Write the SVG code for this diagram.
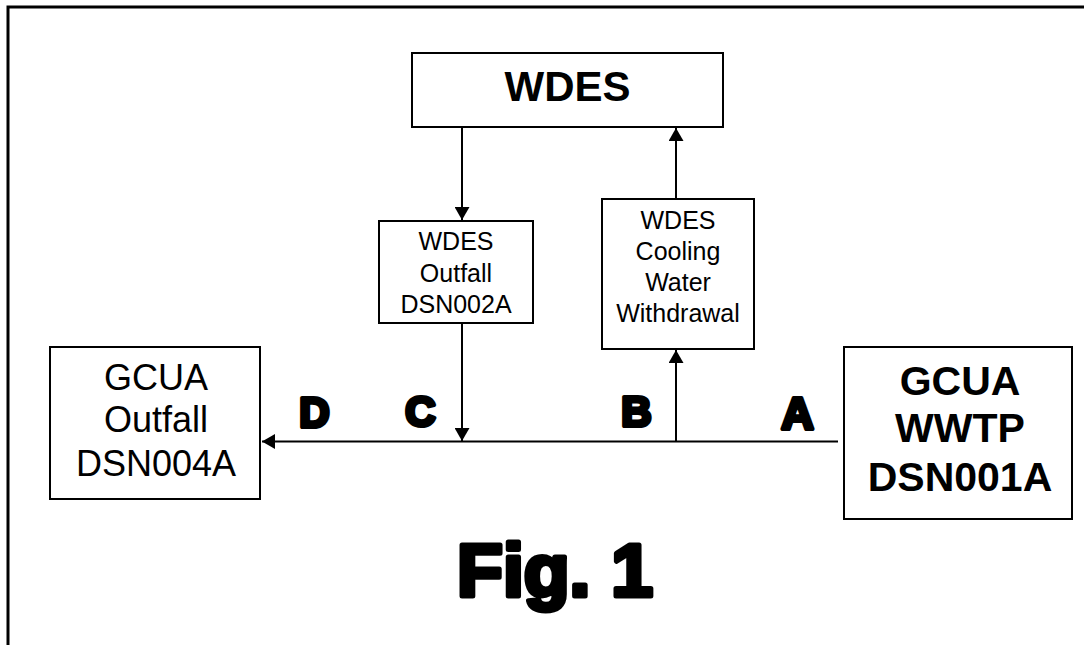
<svg xmlns="http://www.w3.org/2000/svg" width="1084" height="645" viewBox="0 0 1084 645">
<style>
.box{fill:#fff;stroke:#000;stroke-width:2}
.t{font-family:"Liberation Sans",Arial,sans-serif;fill:#000;text-anchor:middle}
.b{font-weight:bold}
.heavy{font-family:"Liberation Sans",Arial,sans-serif;font-weight:bold;fill:#000;stroke:#000;stroke-linejoin:round;text-anchor:middle}
.ln{stroke:#000;stroke-width:2;fill:none}
</style>
<defs>
<marker id="ah" viewBox="0 0 13 15" refX="13" refY="7.5" markerWidth="13" markerHeight="15" markerUnits="userSpaceOnUse" orient="auto">
<path d="M0,0 L13,7.5 L0,15 Z" fill="#000"/>
</marker>
</defs>
<rect width="1084" height="645" fill="#fff"/>
<path d="M8,645 V7 H1084" fill="none" stroke="#000" stroke-width="3"/>
<g id="connectors">
<line class="ln" x1="838" y1="441.5" x2="262" y2="441.5" marker-end="url(#ah)"/>
<line class="ln" x1="462" y1="127" x2="462" y2="220" marker-end="url(#ah)"/>
<line class="ln" x1="462" y1="323" x2="462" y2="441" marker-end="url(#ah)"/>
<line class="ln" x1="676" y1="441" x2="676" y2="350" marker-end="url(#ah)"/>
<line class="ln" x1="676" y1="199" x2="676" y2="128" marker-end="url(#ah)"/>
</g>
<g id="wdes">
<rect class="box" x="412" y="53" width="311" height="74"/>
<text class="t b" x="567.5" y="101" font-size="42">WDES</text>
</g>
<g id="wdes-outfall">
<rect class="box" x="379" y="221" width="154" height="102"/>
<text class="t" font-size="25"><tspan x="456" y="250">WDES</tspan><tspan x="456" y="282">Outfall</tspan><tspan x="456" y="313">DSN002A</tspan></text>
</g>
<g id="wdes-cooling">
<rect class="box" x="602" y="199" width="152" height="150"/>
<text class="t" font-size="25"><tspan x="678" y="229">WDES</tspan><tspan x="678" y="260">Cooling</tspan><tspan x="678" y="291">Water</tspan><tspan x="678" y="322">Withdrawal</tspan></text>
</g>
<g id="gcua-outfall">
<rect class="box" x="50" y="347" width="210" height="152"/>
<text class="t" font-size="36"><tspan x="156" y="390">GCUA</tspan><tspan x="156" y="432">Outfall</tspan><tspan x="156" y="476">DSN004A</tspan></text>
</g>
<g id="gcua-wwtp">
<rect class="box" x="844" y="347" width="228" height="172"/>
<text class="t b" font-size="41"><tspan x="960" y="395">GCUA</tspan><tspan x="960" y="442">WWTP</tspan><tspan x="960" y="491">DSN001A</tspan></text>
</g>
<g id="labels">
<text class="heavy" x="314.5" y="427" font-size="42" stroke-width="4">D</text>
<text class="heavy" x="420.5" y="426" font-size="42" stroke-width="4">C</text>
<text class="heavy" x="636.5" y="426" font-size="42" stroke-width="4">B</text>
<text class="heavy" x="797.5" y="429" font-size="45" stroke-width="4">A</text>
<text class="heavy" x="555" y="596" font-size="75" stroke-width="5">Fig. 1</text>
</g>
</svg>
